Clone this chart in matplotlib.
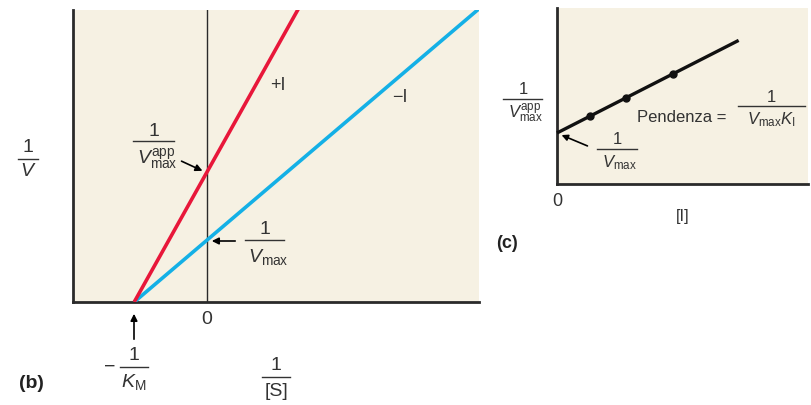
import numpy as np
import matplotlib
matplotlib.use("Agg")
import matplotlib.pyplot as plt
from matplotlib.lines import Line2D

plt.rcParams['font.family'] = ['Liberation Sans', 'DejaVu Sans']
plt.rcParams['mathtext.fontset'] = 'custom'
plt.rcParams['mathtext.rm'] = 'Liberation Sans'
plt.rcParams['mathtext.it'] = 'Liberation Sans:italic'
plt.rcParams['mathtext.bf'] = 'Liberation Sans:bold'

# Lineweaver-Burk plot (b): 1/V vs 1/[S], with and without inhibitor
neg_inv_km = -1.0          # common x-intercept, -1/K_M
inv_vmax = 1.0             # y-intercept without inhibitor, 1/Vmax
inv_vmax_app = 2.1         # y-intercept with inhibitor, 1/Vmax_app
x_range_b = [-1.84, 3.73]
y_range_b = [0.0, 4.71]

# Replot (c): 1/Vmax_app vs [I]
inhib_conc = [1.0, 2.1, 3.5]
line_end_c = 5.5
slope_c = 0.33
x_range_c = [0.0, 7.6]
y_range_c = [0.0, 3.45]

BEIGE = '#f6f1e3'
RED = '#e8173a'
BLUE = '#14b0e6'
TXT = '#333333'
AX = '#2a2a2a'

W, H = 811, 405
fig = plt.figure(figsize=(W / 100, H / 100), dpi=100)
fig.patch.set_facecolor('white')


def fx(px):
    return px / W


def fy(py):
    return 1 - py / H


def px_axes(l, t, r, b):
    return fig.add_axes([fx(l), fy(b), (r - l) / W, (b - t) / H])


def label(px, py, s, size, **kw):
    kw.setdefault('color', TXT)
    fig.text(fx(px), fy(py), s, fontsize=size, ha=kw.pop('ha', 'center'),
             va=kw.pop('va', 'center'), **kw)


def frac(cx, ybar, x0, x1, num, den, size, num_dy, den_dy, den_dx=0):
    """Stacked fraction drawn in figure pixel coordinates."""
    label(cx, ybar - num_dy, num, size)
    label(cx + den_dx, ybar + den_dy, den, size)
    fig.add_artist(Line2D([fx(x0), fx(x1)], [fy(ybar), fy(ybar)],
                          transform=fig.transFigure, color=TXT, lw=1.0))


def arrow(x0, y0, x1, y1, ms=10):
    fig.add_artist(matplotlib.patches.FancyArrowPatch(
        (fx(x0), fy(y0)), (fx(x1), fy(y1)), transform=fig.transFigure,
        arrowstyle='-|>', color='black', lw=1.2, mutation_scale=ms))


# ---------- panel (b) ----------
axb = px_axes(73, 10, 479, 302)
axb.set_facecolor(BEIGE)
axb.set_xlim(*x_range_b)
axb.set_ylim(*y_range_b)
for s in ['top', 'right']:
    axb.spines[s].set_visible(False)
for s in ['left', 'bottom']:
    axb.spines[s].set_color(AX)
    axb.spines[s].set_linewidth(2.0)
axb.set_xticks([])
axb.set_yticks([])

xs = np.array([neg_inv_km, x_range_b[1]])
slope_blue = inv_vmax / (0 - neg_inv_km)
slope_red = inv_vmax_app / (0 - neg_inv_km)
axb.plot(xs, inv_vmax + slope_blue * xs, color=BLUE, lw=2.6, solid_capstyle='butt', zorder=3)
axb.plot(xs, inv_vmax_app + slope_red * xs, color=RED, lw=2.6, solid_capstyle='butt', zorder=3)
axb.axvline(0, color=AX, lw=1.0, zorder=2)

axb.text(0.97, 3.5, '+I', color=TXT, fontsize=13, ha='center', va='center')
axb.text(2.64, 3.3, '−I', color=TXT, fontsize=13, ha='center', va='center')

frac(154, 141, 133, 174, '1', r'$V_{\mathrm{max}}^{\mathrm{app}}$', 14, 10, 18, 3)
arrow(179, 160, 205, 172)
frac(265, 240, 245, 284, '1', r'$V_{\mathrm{max}}$', 14, 11, 17, 3)
arrow(238, 241, 209, 241)

label(207, 320, '0', 14)
frac(28, 159, 18, 38, '1', r'$V$', 14, 11, 13)
label(110, 367, '−', 14)
frac(134, 367, 120, 148, '1', r'$K_{\mathrm{M}}$', 14, 12, 15)
arrow(134, 342, 134, 311)
frac(276, 377, 262, 290, '1', '[S]', 14, 11, 14)
label(31, 384, '(b)', 14, fontweight='bold', color='#222222')

# ---------- panel (c) ----------
axc = px_axes(557, 8, 808, 184)
axc.set_facecolor(BEIGE)
axc.set_xlim(*x_range_c)
axc.set_ylim(*y_range_c)
for s in ['top', 'right']:
    axc.spines[s].set_visible(False)
for s in ['left', 'bottom']:
    axc.spines[s].set_color(AX)
    axc.spines[s].set_linewidth(2.0)
axc.set_xticks([])
axc.set_yticks([])

xc = np.array([0.0, line_end_c])
axc.plot(xc, inv_vmax + slope_c * xc, color='#111111', lw=2.4, solid_capstyle='butt',
         clip_on=False, zorder=3)
ic = np.array(inhib_conc)
axc.plot(ic, inv_vmax + slope_c * ic, 'o', color='#111111', ms=5, zorder=4)

frac(523, 99, 503, 542, '1', r'$V_{\mathrm{max}}^{\mathrm{app}}$', 12, 9, 15, 2)
frac(617, 149, 597, 637, '1', r'$V_{\mathrm{max}}$', 12, 9, 14, 2)
arrow(590, 147, 559, 134, ms=9)
label(637, 118, 'Pendenza =', 12, ha='left')
frac(771, 106, 738, 805, '1', r'$V_{\mathrm{max}}K_{\mathrm{I}}$', 12, 9, 14)

label(557, 202, '0', 13)
label(683, 217, '[I]', 12)
label(507, 243, '(c)', 13, fontweight='bold', color='#222222')

fig.savefig('out.png', dpi=100, facecolor='white')
